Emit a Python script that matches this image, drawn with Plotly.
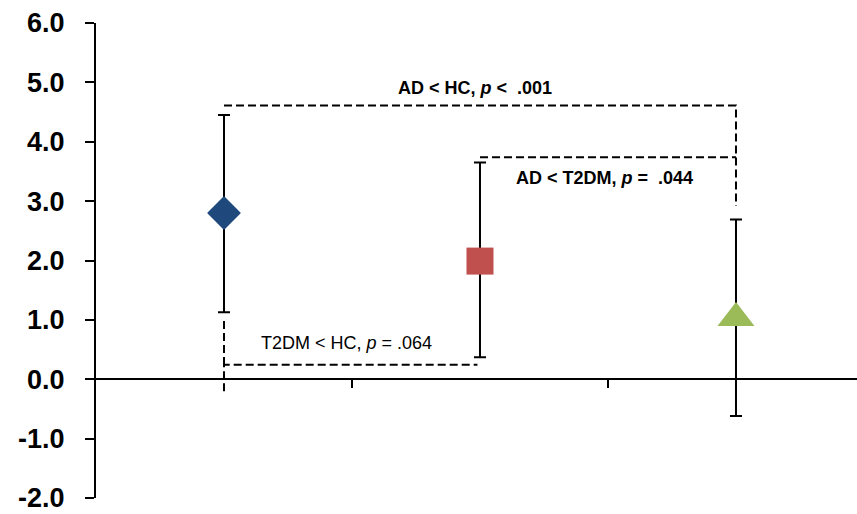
import plotly.graph_objects as go

# ---- data ----
groups = ["HC", "T2DM", "AD"]
group_pos = [0, 1, 2]
means = [2.80, 1.99, 1.03]
err_plus = [1.65, 1.66, 1.66]
err_minus = [1.67, 1.62, 1.65]
symbols = ["diamond", "square", "triangle-up"]
colors = ["#1F497D", "#C0504D", "#9BBB59"]
sizes = [26, 27, 32]

y_ticks = [-2, -1, 0, 1, 2, 3, 4, 5, 6]
y_tick_labels = ["-2.0", "-1.0", "0.0", "1.0", "2.0", "3.0", "4.0", "5.0", "6.0"]
x_sep_ticks = [0.5, 1.5]

# significance brackets (x in group positions, y in data units)
br_ad_hc_x = [0, 2, 2]
br_ad_hc_y = [4.61, 4.61, 2.92]
br_ad_t2_x = [1, 2]
br_ad_t2_y = [3.74, 3.74]
br_t2_hc_x = [0, 0, 0.99]
br_t2_hc_y = [-0.20, 0.243, 0.243]
br_t2_hc_stub_x = [0, 0]
br_t2_hc_stub_y = [0.98, 0.243]

labels = [
    ("<b>AD &lt; HC, <i>p</i> &lt;&nbsp; .001</b>", 0.98, 4.91),
    ("<b>AD &lt; T2DM, <i>p</i> =&nbsp; .044</b>", 1.486, 3.39),
    ("T2DM &lt; HC, <i>p</i> = .064", 0.477, 0.61),
]

FONT = "Arial, Liberation Sans, sans-serif"

fig = go.Figure()

dash_line = dict(color="black", width=2, dash="8px,4px")
for bx, by in [(br_ad_hc_x, br_ad_hc_y), (br_ad_t2_x, br_ad_t2_y),
               (br_t2_hc_x, br_t2_hc_y), (br_t2_hc_stub_x, br_t2_hc_stub_y)]:
    fig.add_trace(go.Scatter(x=bx, y=by, mode="lines", line=dash_line,
                             hoverinfo="skip", showlegend=False))

for i in range(len(groups)):
    fig.add_trace(go.Scatter(
        x=[group_pos[i]], y=[means[i]], mode="markers", name=groups[i],
        marker=dict(symbol=symbols[i], color=colors[i], size=sizes[i],
                    line=dict(width=0)),
        error_y=dict(type="data", symmetric=False, array=[err_plus[i]],
                     arrayminus=[err_minus[i]], color="black",
                     thickness=2, width=6),
        showlegend=False,
    ))

for text, x, y in labels:
    fig.add_annotation(x=x, y=y, text=text, showarrow=False,
                       font=dict(family=FONT, size=18, color="black"),
                       xanchor="center", yanchor="middle")

fig.update_layout(
    width=857, height=514,
    margin=dict(l=96, r=0, t=23, b=16, autoexpand=False),
    paper_bgcolor="white", plot_bgcolor="white",
    showlegend=False,
    xaxis=dict(
        range=[-0.5, 2.4727], anchor="free", position=0.25,
        showline=True, linecolor="black", linewidth=2,
        ticks="outside", tickvals=x_sep_ticks, ticklen=8, tickwidth=2,
        tickcolor="black", showticklabels=False,
        showgrid=False, zeroline=False, automargin=False,
    ),
    yaxis=dict(
        range=[-2, 6], showline=True, linecolor="black", linewidth=2,
        ticks="outside", tickvals=y_ticks, ticktext=y_tick_labels,
        ticklen=9, tickwidth=2, tickcolor="black",
        tickfont=dict(family=FONT, size=27, color="black", weight="bold"),
        ticklabelstandoff=15, ticklabeloverflow="allow",
        showgrid=False, zeroline=False, automargin=False,
    ),
)

fig.write_html(
    "out.html",
    config={"displayModeBar": False},
    post_script="document.body.style.margin='0';document.body.style.padding='0';",
)
